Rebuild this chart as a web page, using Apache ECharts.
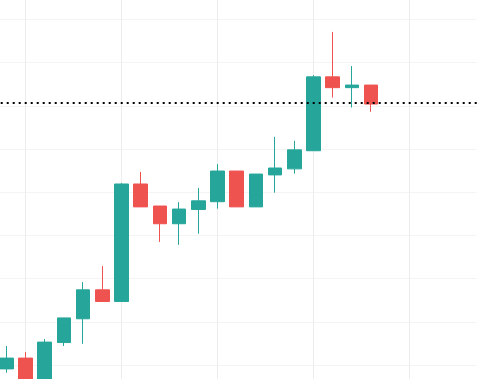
<!DOCTYPE html>
<html>
<head>
<meta charset="utf-8">
<script src="https://cdn.jsdelivr.net/npm/echarts@6/dist/echarts.min.js"></script>
<style>
html,body{margin:0;padding:0;background:#fff;}
#chart{width:477px;height:379px;}
</style>
</head>
<body>
<div id="chart"></div>
<script>
// Categories (25 slots; last 5 empty)
var categories = ['1','2','3','4','5','6','7','8','9','10','11','12','13','14','15','16','17','18','19','20','21','22','23','24','25'];
var opens  = [99.1, 101.6, 95.4, 105.2, 110.7, 117.4, 114.7, 141.9, 136.8, 132.7, 136.0, 137.8, 144.9, 136.6, 144.0, 145.4, 149.6, 166.7, 164.2, 164.8];
var closes = [101.6, 96.0, 105.3, 110.9, 117.4, 114.7, 141.9, 136.6, 132.7, 136.1, 138.0, 144.9, 136.6, 144.2, 145.6, 149.8, 166.7, 164.2, 164.8, 160.4];
var lows   = [98.2, 95.5, 95.0, 104.4, 104.9, 114.7, 114.7, 136.6, 128.5, 127.8, 130.4, 136.2, 136.6, 136.6, 139.9, 144.3, 149.6, 161.9, 159.6, 158.6];
var highs  = [104.4, 103.0, 106.0, 110.9, 119.2, 122.9, 142.1, 144.7, 136.8, 137.7, 141.0, 146.5, 144.9, 144.2, 152.8, 151.9, 167.1, 177.1, 169.2, 164.8];
var priceLine = 160.7;

var candleData = opens.map(function(o, i){ return [o, closes[i], lows[i], highs[i]]; });

var chart = echarts.init(document.getElementById('chart'), null, {renderer:'canvas'});
chart.setOption({
  animation: false,
  backgroundColor: '#ffffff',
  grid: [
    {left: -3.3, top: -23.8, width: 480, height: 432, containLabel: false, outerBoundsMode: 'none'},
    {left: -70.5, top: -23.8, width: 576, height: 432, containLabel: false, outerBoundsMode: 'none'}
  ],
  xAxis: [
    {type: 'category', gridIndex: 0, data: categories, boundaryGap: true,
     axisLine: {show: false}, axisTick: {show: false}, axisLabel: {show: false}, splitLine: {show: false}},
    {type: 'value', gridIndex: 1, min: -5, max: 25, interval: 5,
     axisLine: {show: false}, axisTick: {show: false}, axisLabel: {show: false},
     splitLine: {show: true, lineStyle: {color: '#ececec', width: 1}}}
  ],
  yAxis: [
    {type: 'value', gridIndex: 0, min: 90, max: 190, interval: 10, scale: false,
     axisLine: {show: false}, axisTick: {show: false}, axisLabel: {show: false},
     splitLine: {show: true, lineStyle: {color: '#f4f4f4', width: 1}}},
    {type: 'value', gridIndex: 1, min: 0, max: 1,
     axisLine: {show: false}, axisTick: {show: false}, axisLabel: {show: false}, splitLine: {show: false}}
  ],
  series: [{
    type: 'candlestick',
    xAxisIndex: 0, yAxisIndex: 0,
    data: candleData,
    barWidth: 14,
    itemStyle: {
      color: '#26a69a', color0: '#ef5350',
      borderColor: '#26a69a', borderColor0: '#ef5350', borderColorDoji: '#26a69a',
      borderWidth: 1
    },
    markLine: {
      silent: true,
      symbol: ['none', 'none'],
      label: {show: false},
      lineStyle: {color: '#000000', width: 2, type: [2, 4], dashOffset: 2},
      data: [{yAxis: priceLine}]
    }
  }]
});
</script>
</body>
</html>
